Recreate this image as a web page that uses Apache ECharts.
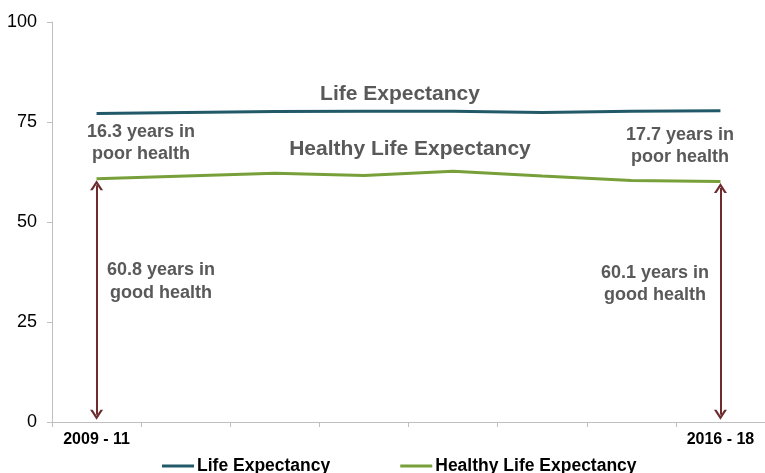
<!DOCTYPE html>
<html>
<head>
<meta charset="utf-8">
<script src="https://cdn.jsdelivr.net/npm/echarts@6/dist/echarts.min.js"></script>
<style>
  html, body { margin: 0; padding: 0; background: #fff; }
  #chart { width: 765px; height: 473px; }
</style>
</head>
<body>
<div id="chart"></div>
<script>
const PERIODS = ["2009 - 11", "2010 - 12", "2011 - 13", "2012 - 14",
                 "2013 - 15", "2014 - 16", "2015 - 17", "2016 - 18"];
const LIFE_EXP = [77.1, 77.4, 77.6, 77.7, 77.7, 77.4, 77.7, 77.8];
const HEALTHY_LIFE_EXP = [60.8, 61.5, 62.2, 61.6, 62.7, 61.5, 60.4, 60.1];
const Y_TICKS = [0, 25, 50, 75, 100];

const LE_COLOR = "#215968";
const HLE_COLOR = "#77a03a";
const ARROW_COLOR = "#6e2c2f";
const NOTE_COLOR = "#595959";
const FONT = "Liberation Sans, Arial, sans-serif";
// 열린 꺾쇠 모양 화살촉 (위쪽을 가리키는 기준)
const CHEVRON = "path://M0,9 L6,0 L12,9 L9.6,9 L6,3.6 L2.4,9 Z";

const last = PERIODS.length - 1;

// 양 끝 기간에 0 ~ 건강수명까지 양방향 화살표
function arrow(idx) {
  return [
    { coord: [idx, 1.8] },
    { coord: [idx, HEALTHY_LIFE_EXP[idx] - 1.6] },
  ];
}

function note(text, x, y, size, lh) {
  return {
    type: "text", x, y,
    style: {
      text, fill: NOTE_COLOR, font: `bold ${size}px ${FONT}`,
      align: "center", verticalAlign: "top", lineHeight: lh || size + 2,
    },
  };
}

const chart = echarts.init(document.getElementById("chart"));
chart.setOption({
  animation: false,
  textStyle: { fontFamily: FONT },
  grid: { left: 52, top: 22, width: 720, height: 400 },
  legend: {
    top: 452, left: 157, itemGap: 70, itemWidth: 32, itemHeight: 3,
    textStyle: { fontSize: 17.5, fontWeight: "bold", color: "#000", fontFamily: FONT, padding: [0, 0, 0, -2] },
    data: [
      { name: "Life Expectancy", icon: "rect" },
      { name: "Healthy Life Expectancy", icon: "rect" },
    ],
  },
  xAxis: {
    type: "category",
    data: PERIODS,
    boundaryGap: true,
    axisLine: { lineStyle: { color: "#bfbfbf", width: 1 } },
    axisTick: { show: true, length: 5, lineStyle: { color: "#bfbfbf" } },
    axisLabel: {
      interval: 0,
      formatter: (v, i) => (i === 0 || i === last) ? v : "",
      fontSize: 16, fontWeight: "bold", color: "#000", margin: 10,
    },
  },
  yAxis: {
    type: "value", min: Y_TICKS[0], max: Y_TICKS[Y_TICKS.length - 1], interval: 25,
    splitLine: { show: false },
    axisLine: { show: true, lineStyle: { color: "#bfbfbf", width: 1 } },
    axisTick: { show: true, length: 5, lineStyle: { color: "#bfbfbf" } },
    axisLabel: { fontSize: 18, color: "#000", margin: 15 },
  },
  series: [
    {
      name: "Life Expectancy", type: "line", data: LIFE_EXP,
      showSymbol: false, symbol: "none",
      lineStyle: { color: LE_COLOR, width: 3 }, itemStyle: { color: LE_COLOR },
    },
    {
      name: "Healthy Life Expectancy", type: "line", data: HEALTHY_LIFE_EXP,
      showSymbol: false, symbol: "none",
      lineStyle: { color: HLE_COLOR, width: 3 }, itemStyle: { color: HLE_COLOR },
      markLine: {
        silent: true,
        symbol: [CHEVRON, CHEVRON],
        symbolSize: [13, 10],
        label: { show: false },
        lineStyle: { color: ARROW_COLOR, width: 2, type: "solid" },
        data: [arrow(0), arrow(last)],
      },
    },
  ],
  graphic: [
    note("Life Expectancy", 400, 83, 21),
    note("Healthy Life Expectancy", 410, 138, 21),
    note("16.3 years in\npoor health", 141, 121, 18, 22),
    note("17.7 years in\npoor health", 680, 124, 18, 22),
    note("60.8 years in\ngood health", 161, 259, 18, 23),
    note("60.1 years in\ngood health", 655, 262, 18, 22),
  ],
});
</script>
</body>
</html>
